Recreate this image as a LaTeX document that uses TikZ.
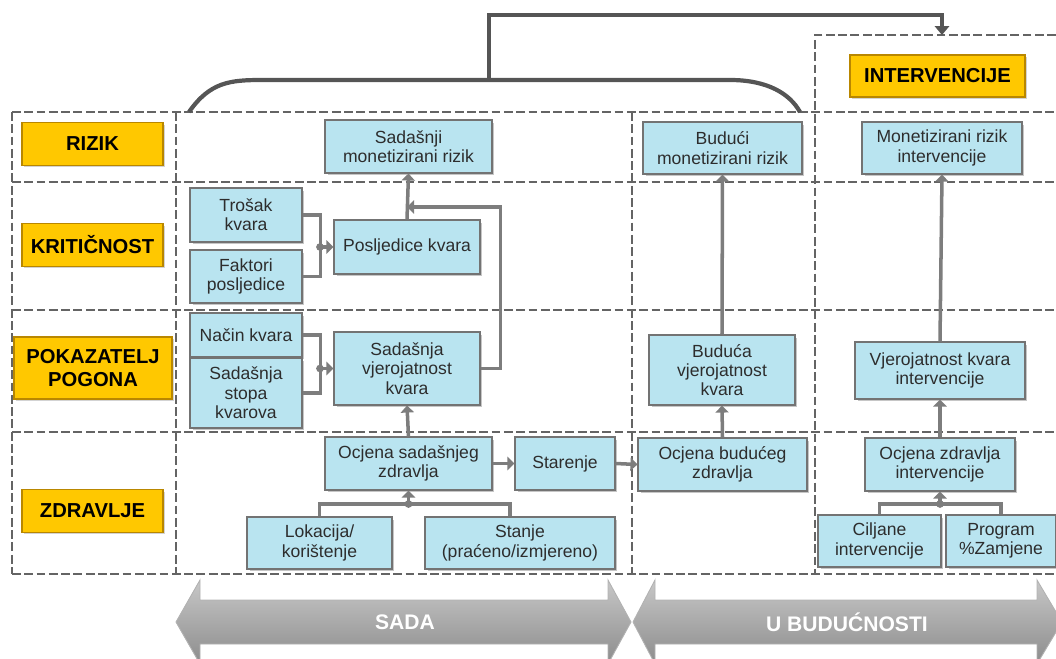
\documentclass[tikz,border=0pt]{standalone}
\usepackage{fontspec}
\setmainfont{Liberation Sans}
\usetikzlibrary{arrows.meta,positioning,shadows}
\definecolor{boxblue}{RGB}{185,228,240}
\definecolor{gold}{RGB}{255,200,0}
\definecolor{golddark}{RGB}{185,135,0}
\definecolor{textgray}{RGB}{45,45,45}
\definecolor{gridgray}{RGB}{100,100,100}
\definecolor{linkgray}{RGB}{125,125,125}
\definecolor{bracegray}{RGB}{85,85,85}
\tikzset{
  blok/.style={fill=boxblue,draw=black!55,line width=0.6pt,text=textgray,
    font=\fontsize{10}{11}\selectfont,align=center,inner sep=1pt,
    drop shadow={shadow xshift=0.5mm,shadow yshift=-0.5mm,opacity=0.45}},
  oznaka/.style={fill=gold,draw=golddark,line width=0.8pt,
    font=\bfseries\fontsize{11.5}{13}\selectfont,align=center,inner sep=1pt,
    drop shadow={shadow xshift=0.4mm,shadow yshift=-0.4mm,opacity=0.35}},
  mreza/.style={draw=gridgray,line width=1.7pt,dash pattern=on 5pt off 2pt},
  spoj/.style={draw=linkgray,line width=2pt},
  veza/.style={spoj,-{Triangle[length=4pt,width=7.5pt]}},
  luk/.style={draw=bracegray,line width=2.4pt},
  strelica/.style={top color=black!22,middle color=black!32,bottom color=black!45,
    draw=black!30,line width=0.5pt},
}

\begin{document}
\begin{tikzpicture}[x=0.02cm,y=-0.02cm]
    \useasboundingbox (0,0) rectangle (1056,659);
    \clip (0,0) rectangle (1056,659);

    % mreza
    \foreach \y in {112,182,310,432,574}
      \draw[mreza] (12,\y) -- (1056,\y);
    \foreach \x in {12,176,632}
      \draw[mreza] (\x,112) -- (\x,574);
    \draw[mreza] (1056,35) -- (815,35) -- (815,574);

    % oznake redova
    \foreach \y/\n/\t in {144/rizik/RIZIK,245/kriticnost/KRITIČNOST,511/zdravlje/ZDRAVLJE}
      \node[oznaka,minimum width=28.2mm,minimum height=8.5mm] (\n) at (92.5,\y) {\t};
    \node[oznaka,minimum width=31.6mm,minimum height=12.4mm] (pokazatelj) at (93,368) {POKAZATELJ\\POGONA};
    \node[oznaka,minimum width=35mm,minimum height=8.4mm] (intervencije) at (937.5,76) {INTERVENCIJE};

    % sada
    \node[blok,minimum width=33.4mm,minimum height=10.6mm] (sadRizik) at (408.5,146.5) {Sadašnji\\monetizirani rizik};
    \node[blok,minimum width=22.4mm,minimum height=10.8mm] (trosak) at (246,215) {Trošak\\kvara};
    \node[blok,minimum width=22.4mm,minimum height=10.6mm] (faktori) at (246,276.5) {Faktori\\posljedice};
    \node[blok,minimum width=29.2mm,minimum height=10.8mm] (posljedice) at (407,247) {Posljedice kvara};
    \node[blok,minimum width=22.4mm,minimum height=8.8mm] (nacin) at (246,335) {Način kvara};
    \node[blok,minimum width=22.4mm,minimum height=14mm] (stopa) at (246,393) {Sadašnja\\stopa\\kvarova};
    \node[blok,minimum width=29.2mm,minimum height=14.6mm] (sadVjer) at (407,368.5) {Sadašnja\\vjerojatnost\\kvara};
    \node[blok,minimum width=33.4mm,minimum height=10.6mm] (sadZdr) at (408.5,463.5) {Ocjena sadašnjeg\\zdravlja};
    \node[blok,minimum width=20mm,minimum height=10.6mm] (starenje) at (565,463.5) {Starenje};
    \node[blok,minimum width=29mm,minimum height=10.4mm] (lokacija) at (319.5,543) {Lokacija/\\korištenje};
    \node[blok,minimum width=38mm,minimum height=10.4mm] (stanje) at (520,543) {Stanje\\(praćeno/izmjereno)};

    % u buducnosti
    \node[blok,minimum width=31.8mm,minimum height=10.4mm] (budRizik) at (722.5,148) {Budući\\monetizirani rizik};
    \node[blok,minimum width=29.2mm,minimum height=14mm] (budVjer) at (722,370) {Buduća\\vjerojatnost\\kvara};
    \node[blok,minimum width=33.8mm,minimum height=10.6mm] (budZdr) at (722.5,464.5) {Ocjena budućeg\\zdravlja};

    % intervencije
    \node[blok,minimum width=32mm,minimum height=10.4mm] (intRizik) at (942,148) {Monetizirani rizik\\intervencije};
    \node[blok,minimum width=34mm,minimum height=11.4mm] (intVjer) at (940,370.5) {Vjerojatnost kvara\\intervencije};
    \node[blok,minimum width=30mm,minimum height=10.6mm] (intZdr) at (940,464.5) {Ocjena zdravlja\\intervencije};
    \node[blok,minimum width=24.6mm,minimum height=10.4mm] (ciljane) at (879.5,541) {Ciljane\\intervencije};
    \node[blok,minimum width=22mm,minimum height=10.4mm] (program) at (1001,541) {Program\\\%Zamjene};

    % veze
    \coordinate (jRizik) at (407,207);
    \coordinate (jKrit) at (320,247);
    \coordinate (jPok) at (320,368.5);
    \coordinate (jZdr) at (408.5,504);
    \coordinate (jInt) at (940,504);
    \draw[veza] (posljedice.north) -- (sadRizik.south);
    \draw[veza] (sadVjer.east) -- ++(20,0) |- (jRizik);
    \draw[spoj] (trosak.east) -- ++(18,0) |- (faktori.east);
    \draw[spoj] (nacin.east) -- ++(18,0) |- (stopa.east);
    \draw[veza] (jKrit) -- (posljedice.west);
    \draw[veza] (jPok) -- (sadVjer.west);
    \fill[linkgray] (jKrit) circle[radius=2.2pt] (jPok) circle[radius=2.2pt];
    \draw[spoj] (lokacija.north) |- (jZdr) -| ([xshift=-2mm]stanje.north);
    \draw[veza] (jZdr) -- (sadZdr.south);
    \draw[veza] (sadZdr.north) -- (sadVjer.south);
    \draw[veza] (sadZdr.east) -- (starenje.west);
    \draw[veza] (starenje.east) -- (budZdr.west);
    \draw[veza] (budZdr.north) -- (budVjer.south);
    \draw[veza] (budVjer.north) -- (budRizik.south);
    \draw[spoj] (ciljane.north) |- (jInt) -| (program.north);
    \draw[veza] (jInt) -- (intZdr.south);
    \fill[linkgray] (jZdr) circle[radius=2.2pt] (jInt) circle[radius=2.2pt];
    \draw[veza] (intZdr.north) -- (intVjer.south);
    \draw[veza] (intVjer.north) -- (intRizik.south);

    % luk prema intervencijama
    \coordinate (lukL) at (189,112);
    \coordinate (lukD) at (800,112);
    \coordinate (lukV) at (489,80);
    \coordinate (intVrh) at (942,35);
    \draw[luk] (lukL) .. controls (210,82) and (230,80) .. (262,80) -- (730,80)
      .. controls (768,80) and (790,94) .. (lukD);
    \draw[luk,-{Triangle[length=5pt,width=8pt]}] (lukV) -- (489,15) -| (intVrh);

    % vremenske strelice
    \draw[strelica] (176,622) -- (200,580) -- (200,600) -- (608,600) -- (608,580) -- (631,622)
      -- (608,664) -- (608,644) -- (200,644) -- (200,664) -- cycle;
    \draw[strelica] (633,622) -- (655,580) -- (655,600) -- (1037,600) -- (1037,580) -- (1062,622)
      -- (1037,664) -- (1037,644) -- (655,644) -- (655,664) -- cycle;
    \node[text=white,font=\bfseries\fontsize{12}{14}\selectfont] (sada) at (405,622) {SADA};
    \node[text=white,font=\bfseries\fontsize{12}{14}\selectfont] (buducnost) at (847,622) {U BUDUĆNOSTI};
\end{tikzpicture}
\end{document}
